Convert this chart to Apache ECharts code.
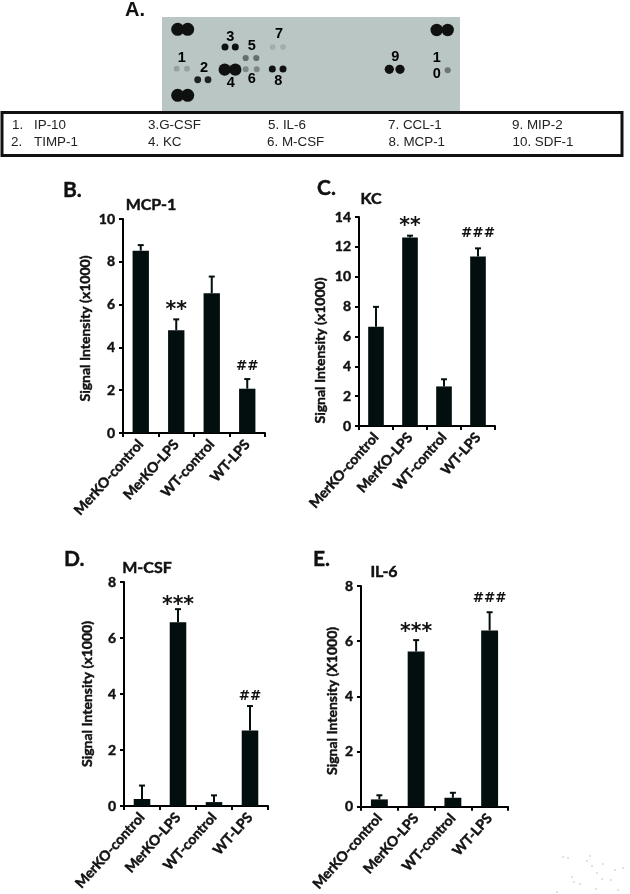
<!DOCTYPE html>
<html><head><meta charset="utf-8">
<style>html,body{margin:0;padding:0;background:#fff}#c{width:630px;height:894px}</style>
<script src="https://cdn.jsdelivr.net/npm/echarts@6/dist/echarts.min.js"></script>
</head><body><div id="c"></div>
<script>
// ---- bar chart data ----
const categories = ['MerKO-control','MerKO-LPS','WT-control','WT-LPS'];
const mcpMean = [8.52,4.8,6.53,2.07];
const mcpTop  = [8.78,5.31,7.31,2.52];
const mcpMarks = ['','**','','##'];
const mcpMarkAt = [null,5.93,null,3.12];
const kcMean = [6.65,12.63,2.65,11.35];
const kcTop  = [7.98,12.75,3.13,11.9];
const kcMarks = ['','**','','###'];
const kcMarkAt = [null,13.67,null,12.9];
const mcsfMean = [0.25,6.56,0.14,2.7];
const mcsfTop  = [0.73,7.03,0.38,3.57];
const mcsfMarks = ['','***','','##'];
const mcsfMarkAt = [null,7.33,null,3.92];
const il6Mean = [0.27,5.63,0.33,6.39];
const il6Top  = [0.42,6.04,0.51,7.05];
const il6Marks = ['','***','','###'];
const il6MarkAt = [null,6.49,null,7.56];
// ---- membrane (panel A) data, in membrane coordinates ----
const spotX = [177.7,187.7,177.7,187.7,436.7,447.7,176.7,187,197.7,208,225,235.3,224.7,235.3,245.7,256.3,245.7,256.7,272.7,283,272.3,283,389.3,400,447.7];
const spotY = [29.3,29.3,95.3,95.3,30,30,68.7,68.7,79.7,79.7,47,47,69.7,69.7,58,58,69.3,69.3,47,47,69,69,69.3,69.3,70.3];
const spotSignal = [1,1,1,1,.92,.92,.03,.03,.18,.18,.2,.2,.9,.9,.09,.09,.06,.06,.015,.015,.2,.2,.5,.5,.08];
const blotDigits = ['1','2','3','4','5','6','7','8','9','1','0'];
const blotDigitX = [181.7,204,230.3,230.7,251.7,251.7,279,278.3,395.3,436.7,436.7];
const blotDigitY = [57.7,68,37,83.3,46.3,79.3,34.3,81,56.7,57.7,74];
const keyLabels = ['1.','IP-10','2.','TIMP-1','3.G-CSF','4. KC','5. IL-6','6. M-CSF','7. CCL-1','8. MCP-1','9. MIP-2','10. SDF-1'];
const keyX = [12,34,11,34,148,148,268,267,388,388.5,512,512.5];
const keyY = [125.5,125.5,142.5,142.5,125.5,142.5,125.5,142.5,125.5,142.5,125.5,142.5];
// faint scan specks in the lower right corner of the page
const speckX = [563,568,587,592,597,602,572,574,603,615,611,623,580,596,618,557,590];
const speckY = [857,858,861,866,873,879,877,882,864,870,880,868,884,889,890,892,856];

const FONT = 'Lato';
const INK = '#030f0e';
const TXT = '#111';
const heavy = {color:TXT,textBorderColor:TXT,textBorderWidth:0.45};
const grid=[], xAxis=[], yAxis=[], series=[], graphic=[];

// panel A: membrane drawn on its own scale
grid.push({left:162,top:17,width:298,height:94,show:true,backgroundColor:'#b9c6c3',borderWidth:0});
xAxis.push({type:'value',gridIndex:0,min:162,max:460,show:false});
yAxis.push({type:'value',gridIndex:0,min:17,max:111,inverse:true,show:false});
const mix = s => { const t=Math.min(1,s/0.2);
  const c=[[0xae,0x0f],[0xba,0x11],[0xb8,0x11]].map(p=>Math.round(p[0]+(p[1]-p[0])*t));
  return `rgb(${c[0]},${c[1]},${c[2]})`; };
series.push({type:'scatter',xAxisIndex:0,yAxisIndex:0,silent:true,
  data:spotX.map((x,i)=>({value:[x,spotY[i]],symbolSize:5.5+7.5*spotSignal[i],itemStyle:{opacity:1,color:mix(spotSignal[i])}}))});
series.push({type:'scatter',xAxisIndex:0,yAxisIndex:0,silent:true,symbolSize:1,itemStyle:{opacity:0},
  data:blotDigitX.map((x,i)=>[x,blotDigitY[i]]),
  label:{show:true,position:'inside',opacity:1,formatter:p=>blotDigits[p.dataIndex],
    fontFamily:'Liberation Sans',fontWeight:'bold',fontSize:14.5,color:'#000'}});

function panel(cfg){
  const g=grid.length;
  grid.push({left:cfg.left,top:cfg.gridTop,width:cfg.width,height:cfg.height,containLabel:false});
  xAxis.push({type:'category',gridIndex:g,data:categories,
    axisLine:{lineStyle:{color:'#000',width:2}},
    axisTick:{show:true,alignWithLabel:false,length:4,lineStyle:{color:'#000',width:2}},
    axisLabel:{interval:0,rotate:48,margin:9,fontFamily:FONT,fontWeight:'bold',fontSize:14,...heavy}});
  yAxis.push({type:'value',gridIndex:g,min:0,max:cfg.max,interval:2,
    name:cfg.yName,nameLocation:'middle',nameGap:cfg.gap,nameRotate:90,
    nameTextStyle:{fontFamily:FONT,fontWeight:'bold',fontSize:14,padding:cfg.namePad||0,...heavy},
    splitLine:{show:false},
    axisLine:{show:true,lineStyle:{color:'#000',width:2}},
    axisTick:{show:true,length:4,lineStyle:{color:'#000',width:2}},
    axisLabel:{margin:8,fontFamily:FONT,fontWeight:'bold',fontSize:14,...heavy}});
  series.push({type:'bar',xAxisIndex:g,yAxisIndex:g,data:cfg.mean,barWidth:'46%',silent:true,
    itemStyle:{color:INK}});
  series.push({type:'custom',xAxisIndex:g,yAxisIndex:g,silent:true,z:3,
    data:cfg.mean.map((m,i)=>[i,m,cfg.errTop[i]]),
    renderItem:(p,api)=>{
      const a=api.coord([api.value(0),api.value(1)]), b=api.coord([api.value(0),api.value(2)]);
      const st={stroke:INK,lineWidth:2,fill:null};
      return {type:'group',children:[
        {type:'line',shape:{x1:a[0],y1:a[1],x2:b[0],y2:b[1]},style:st},
        {type:'line',shape:{x1:b[0]-3,y1:b[1],x2:b[0]+3,y2:b[1]},style:st}]};
    }});
  const isStar = m => m[0]==='*';
  series.push({type:'scatter',xAxisIndex:g,yAxisIndex:g,silent:true,symbolSize:1,itemStyle:{opacity:0},
    data:cfg.marks.map((m,i)=>m?{value:[i,cfg.markAt[i]],name:m,
      label:{show:true,opacity:1,position:'inside',fontFamily:'DejaVu Sans',color:'#111',
        formatter:p=>p.name,...(isStar(m)?{fontSize:20.5,fontWeight:'bold',offset:[0,4.5]}:{fontSize:13.5,fontWeight:'bold',offset:[0,0]})}}:null).filter(Boolean),
    label:{show:true,opacity:1,position:'inside',formatter:p=>p.name,fontFamily:'DejaVu Sans',color:'#111'}});
  graphic.push({type:'text',x:cfg.titleX,y:cfg.titleY,style:{text:cfg.title,align:'center',verticalAlign:'middle',
    font:'bold 16px '+FONT,fill:TXT,stroke:TXT,lineWidth:0.45}});
  graphic.push({type:'text',x:cfg.letterX,y:cfg.letterY,style:{text:cfg.letter,align:'left',verticalAlign:'middle',
    font:'bold 21px '+FONT,fill:'#111',stroke:'#111',lineWidth:0.4}});
}
panel({left:123,gridTop:219,width:142,height:214,max:10,mean:mcpMean,errTop:mcpTop,marks:mcpMarks,markAt:mcpMarkAt,
  yName:'Signal Intensity (x1000)',gap:31,namePad:[0,5,0,0],title:'MCP-1',titleX:151,titleY:205,letter:'B.',letterX:63,letterY:190});
panel({left:359,gridTop:217,width:136,height:209,max:14,mean:kcMean,errTop:kcTop,marks:kcMarks,markAt:kcMarkAt,
  yName:'Signal Intensity (x1000)',gap:32,namePad:[0,58,0,0],title:'KC',titleX:371,titleY:199,letter:'C.',letterX:317,letterY:188});
panel({left:124,gridTop:582,width:144,height:224,max:8,mean:mcsfMean,errTop:mcsfTop,marks:mcsfMarks,markAt:mcsfMarkAt,
  yName:'Signal Intensity (x1000)',gap:30,title:'M-CSF',titleX:147,titleY:568,letter:'D.',letterX:64,letterY:559});
panel({left:361,gridTop:586,width:147,height:222,max:8,mean:il6Mean,errTop:il6Top,marks:il6Marks,markAt:il6MarkAt,
  yName:'Signal Intensity (X1000)',gap:22,namePad:[0,9,0,0],title:'IL-6',titleX:384,titleY:572,letter:'E.',letterX:313,letterY:559});

// scan specks
const sg=grid.length;
grid.push({left:550,top:850,width:80,height:44});
xAxis.push({type:'value',gridIndex:sg,min:550,max:630,show:false});
yAxis.push({type:'value',gridIndex:sg,min:850,max:894,inverse:true,show:false});
series.push({type:'scatter',xAxisIndex:sg,yAxisIndex:sg,silent:true,symbol:'rect',symbolSize:2,
  itemStyle:{opacity:1,color:'#dde5e4'},data:speckX.map((x,i)=>[x,speckY[i]])});

// key box and panel letter A
graphic.push({type:'rect',shape:{x:2,y:112.5,width:620,height:43},style:{fill:'#fff',stroke:'#111',lineWidth:3},z:5});
keyLabels.forEach((t,i)=>graphic.push({type:'text',x:keyX[i],y:keyY[i],z:6,
  style:{text:t,align:'left',verticalAlign:'middle',font:'13.4px "Liberation Sans"',fill:'#222'}}));
graphic.push({type:'text',x:125,y:10,style:{text:'A.',align:'left',verticalAlign:'middle',font:'bold 20px "Liberation Sans"',fill:'#111'}});

const chart=echarts.init(document.getElementById('c'),null,{renderer:'canvas'});
chart.setOption({animation:false,backgroundColor:'#fff',grid,xAxis,yAxis,series,graphic});
</script></body></html>
